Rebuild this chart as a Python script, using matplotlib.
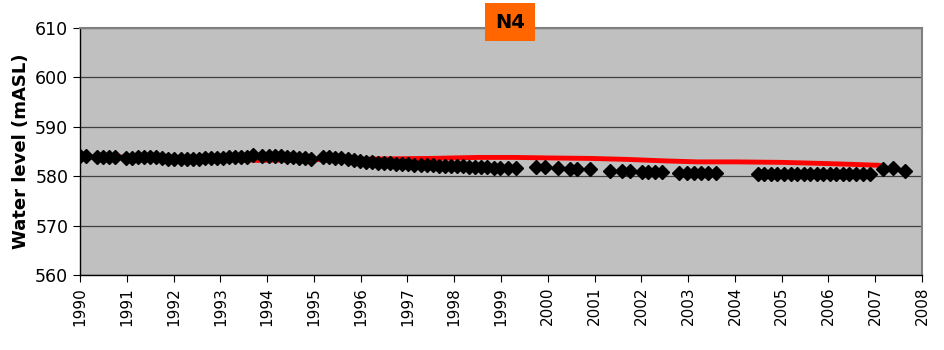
import matplotlib
matplotlib.use("Agg")
import matplotlib.pyplot as plt

# observed water levels (black diamonds)
obs_year = [1990.00, 1990.13, 1990.36, 1990.49, 1990.62, 1990.75, 1990.98, 1991.11, 1991.24, 1991.37,
            1991.50, 1991.63, 1991.76, 1991.89, 1992.02, 1992.15, 1992.28, 1992.41, 1992.54, 1992.67,
            1992.80, 1992.93, 1993.06, 1993.19, 1993.32, 1993.45, 1993.58, 1993.70, 1993.90, 1994.03,
            1994.16, 1994.29, 1994.42, 1994.55, 1994.68, 1994.81, 1994.94, 1995.20, 1995.33, 1995.46,
            1995.59, 1995.72, 1995.85, 1995.98, 1996.11, 1996.24, 1996.37, 1996.50, 1996.63, 1996.76,
            1996.89, 1997.02, 1997.15, 1997.28, 1997.41, 1997.54, 1997.67, 1997.80, 1997.93, 1998.06,
            1998.19, 1998.32, 1998.45, 1998.58, 1998.71, 1998.84, 1998.97, 1999.15, 1999.32,
            1999.74, 1999.94, 2000.21, 2000.47, 2000.62, 2000.90, 2001.32, 2001.58, 2001.75,
            2002.01, 2002.14, 2002.29, 2002.44, 2002.80, 2002.97, 2003.12, 2003.27, 2003.42, 2003.59,
            2004.49, 2004.63, 2004.77, 2004.91, 2005.05, 2005.19, 2005.33, 2005.47, 2005.61, 2005.75,
            2005.89, 2006.03, 2006.17, 2006.31, 2006.45, 2006.59, 2006.73, 2006.88,
            2007.16, 2007.37, 2007.63]
obs_level = [584.1, 584.0, 583.8, 583.8, 583.8, 583.8, 583.7, 583.7, 583.8, 583.8,
             583.8, 583.8, 583.6, 583.5, 583.4, 583.4, 583.5, 583.5, 583.5, 583.6,
             583.7, 583.7, 583.7, 583.8, 583.8, 583.9, 583.9, 584.2, 584.1, 584.1,
             584.0, 584.0, 583.9, 583.9, 583.7, 583.6, 583.5, 583.8, 583.8, 583.7,
             583.6, 583.4, 583.2, 583.0, 582.9, 582.8, 582.7, 582.6, 582.6, 582.5,
             582.5, 582.4, 582.3, 582.3, 582.2, 582.2, 582.1, 582.1, 582.0, 582.0,
             582.0, 581.9, 581.8, 581.8, 581.8, 581.7, 581.7, 581.7, 581.7,
             581.9, 581.9, 581.7, 581.4, 581.4, 581.4, 581.1, 581.0, 581.0,
             580.9, 580.9, 580.9, 580.9, 580.7, 580.7, 580.7, 580.7, 580.7, 580.7,
             580.5, 580.5, 580.5, 580.5, 580.5, 580.5, 580.5, 580.5, 580.5, 580.5,
             580.5, 580.5, 580.5, 580.5, 580.5, 580.5, 580.5, 580.5,
             581.5, 581.6, 581.1]

# simulated level (red line)
sim_year = [1990.0, 1991.8, 1993.0, 1993.8, 1994.5, 1995.5, 1996.5, 1997.5, 1998.5, 1999.3,
            2000.0, 2000.9, 2001.7, 2002.5, 2003.2, 2004.0, 2005.0, 2005.8, 2006.5, 2007.1]
sim_level = [583.9, 583.9, 583.5, 583.2, 583.3, 583.4, 583.5, 583.6, 583.8, 583.8,
             583.7, 583.6, 583.4, 583.1, 582.9, 582.9, 582.8, 582.6, 582.4, 582.2]

years = list(range(1990, 2009))

fig = plt.figure(figsize=(9.44, 3.5), dpi=100)
ax = fig.add_axes([80 / 944, 1 - 275 / 350, 842 / 944, 247 / 350])
ax.set_facecolor("#c0c0c0")

ax.plot(sim_year, sim_level, color="#ff0000", lw=3.5, solid_capstyle="round", zorder=3)
ax.plot(obs_year, obs_level, ls="none", marker="D", ms=7, color="black", zorder=4)

ax.set_xlim(1990, 2008)
ax.set_ylim(560, 610)
ax.set_yticks(range(560, 611, 10))
ax.set_xticks(years)
ax.set_xticklabels([str(y) for y in years], rotation=90, fontsize=11)
ax.tick_params(axis="y", labelsize=12.5, length=5, direction="out", color="black")
ax.tick_params(axis="x", length=5, direction="out", color="black")
ax.grid(axis="y", color="#404040", lw=0.9)
ax.set_axisbelow(True)
for sp in ["top", "right"]:
    ax.spines[sp].set_color("#808080")
    ax.spines[sp].set_linewidth(1.5)
for sp in ["left", "bottom"]:
    ax.spines[sp].set_color("black")
    ax.spines[sp].set_linewidth(1.0)
ax.set_ylabel("Water level (mASL)", fontsize=13, fontweight="bold", labelpad=4)

fig.text(510 / 944, 1 - 22 / 350, "N4", fontsize=14, fontweight="bold", ha="center", va="center",
         bbox=dict(boxstyle="square,pad=0.5", facecolor="#ff6600", edgecolor="none"))

fig.savefig("out.png", dpi=100, facecolor="white")
